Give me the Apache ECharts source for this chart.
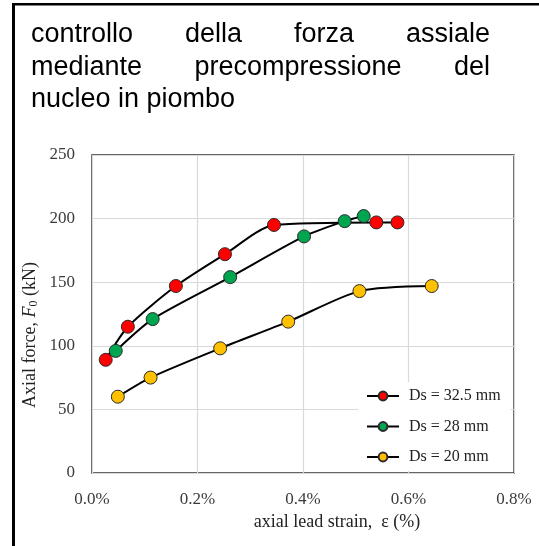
<!DOCTYPE html>
<html>
<head>
<meta charset="utf-8">
<script src="https://cdn.jsdelivr.net/npm/echarts@6/dist/echarts.min.js"></script>
<style>
  html, body { margin: 0; padding: 0; background: #fff; }
  #chart { width: 539px; height: 546px; }
</style>
</head>
<body>
<div id="chart"></div>
<script>
// Axial lead strain (%) vs axial force F0 (kN) for three lead-core diameters
const seriesNames = ['Ds = 32.5 mm', 'Ds = 28 mm', 'Ds = 20 mm'];
const strainDs325 = [0.026, 0.068, 0.159, 0.252, 0.345, 0.539, 0.579];
const forceDs325  = [89, 115, 147, 172, 195, 197, 197];
const strainDs28  = [0.045, 0.115, 0.262, 0.402, 0.479, 0.515];
const forceDs28   = [96, 121, 154, 186, 198, 202];
const strainDs20  = [0.049, 0.111, 0.243, 0.372, 0.507, 0.644];
const forceDs20   = [60, 75, 98, 119, 143, 147];
const markerColors = ['#ff0000', '#00a550', '#ffc000'];

const xTicks = { min: 0, max: 0.8, interval: 0.2 };
const yTicks = { min: 0, max: 250, interval: 50 };

const titleLines = [
  ['controllo', 'della', 'forza', 'assiale'],
  ['mediante', 'precompressione', 'del'],
  ['nucleo in piombo']
];

const pairs = (xs, ys) => xs.map((x, i) => [x, ys[i]]);
const serif = "'Liberation Serif', 'DejaVu Serif', serif";
const labelColor = '#3b3b3b';

// justified heading: words spread between the left and right margins
const titleSize = 27;
const titleFont = titleSize + "px 'Liberation Sans', Arial, sans-serif";
const measureCtx = document.createElement('canvas').getContext('2d');
measureCtx.font = titleFont;
const textLeft = 31, textRight = 490;
const baselines = [44, 76.5, 109];
const titleGraphics = [];
titleLines.forEach((words, li) => {
  const justify = li < titleLines.length - 1 && words.length > 1;
  const widths = words.map(w => measureCtx.measureText(w).width);
  const total = widths.reduce((a, b) => a + b, 0);
  const gap = justify ? (textRight - textLeft - total) / (words.length - 1) : measureCtx.measureText(' ').width;
  let x = textLeft;
  words.forEach((w, wi) => {
    titleGraphics.push({
      type: 'text', x: x, y: baselines[li] - 0.35 * titleSize,
      style: { text: w, font: titleFont, fill: '#000', verticalAlign: 'middle', align: 'left' }
    });
    x += widths[wi] + gap;
  });
});

const chart = echarts.init(document.getElementById('chart'), null, { renderer: 'canvas' });

const makeSeries = (name, data, color) => ({
  name: name,
  type: 'line',
  data: data,
  smooth: 0.25,
  symbol: 'circle',
  symbolSize: 13,
  lineStyle: { color: '#000', width: 2 },
  itemStyle: { color: color, borderColor: '#2a2a2a', borderWidth: 1 },
  emphasis: { disabled: true },
  z: 3
});

chart.setOption({
  animation: false,
  backgroundColor: '#fff',
  grid: {
    left: 92, top: 155, right: 25, bottom: 73,
    show: true, borderColor: '#333', borderWidth: 1.5, backgroundColor: 'transparent'
  },
  xAxis: {
    type: 'value', min: xTicks.min, max: xTicks.max, interval: xTicks.interval,
    axisLine: { show: false }, axisTick: { show: false },
    splitLine: { show: true, lineStyle: { color: '#d9d9d9', width: 1.2 } },
    axisLabel: {
      margin: 18, color: labelColor, fontFamily: serif, fontSize: 17,
      formatter: v => v.toFixed(1) + '%'
    }
  },
  yAxis: {
    type: 'value', min: yTicks.min, max: yTicks.max, interval: yTicks.interval,
    axisLine: { show: false }, axisTick: { show: false },
    splitLine: { show: true, lineStyle: { color: '#d9d9d9', width: 1.2 } },
    axisLabel: { margin: 17, color: labelColor, fontFamily: serif, fontSize: 17 }
  },
  legend: {
    data: seriesNames,
    orient: 'vertical',
    left: 358, top: 382,
    itemWidth: 32, itemHeight: 11, itemGap: 14.5,
    backgroundColor: '#fff',
    padding: [6, 10, 6, 8],
    textStyle: { fontFamily: serif, fontSize: 16, color: '#222', padding: [0, 0, 0, 5] }
  },
  series: [
    makeSeries(seriesNames[0], pairs(strainDs325, forceDs325), markerColors[0]),
    makeSeries(seriesNames[1], pairs(strainDs28, forceDs28), markerColors[1]),
    makeSeries(seriesNames[2], pairs(strainDs20, forceDs20), markerColors[2])
  ],
  graphic: [
    // outer frame: top and left rules
    { type: 'rect', shape: { x: 12, y: 3, width: 527, height: 2.5 }, style: { fill: '#000' } },
    { type: 'rect', shape: { x: 12, y: 3, width: 3, height: 543 }, style: { fill: '#000' } },
    ...titleGraphics,
    // axis titles
    {
      type: 'text', x: 30, y: 335, rotation: Math.PI / 2,
      style: {
        text: 'Axial force, {i|F}{s|0} (kN)',
        rich: {
          i: { fontFamily: serif, fontSize: 18, fontStyle: 'italic', fill: '#222' },
          s: { fontFamily: serif, fontSize: 12, fill: '#222', padding: [7, 0, 0, 0] }
        },
        font: "18px 'Liberation Serif', serif", fill: '#222',
        align: 'center', verticalAlign: 'middle'
      }
    },
    {
      type: 'text', x: 337, y: 522,
      style: {
        text: 'axial lead strain,  \u03b5 (%)',
        font: "18px 'Liberation Serif', serif", fill: '#222',
        align: 'center', verticalAlign: 'middle'
      }
    }
  ]
});
</script>
</body>
</html>
